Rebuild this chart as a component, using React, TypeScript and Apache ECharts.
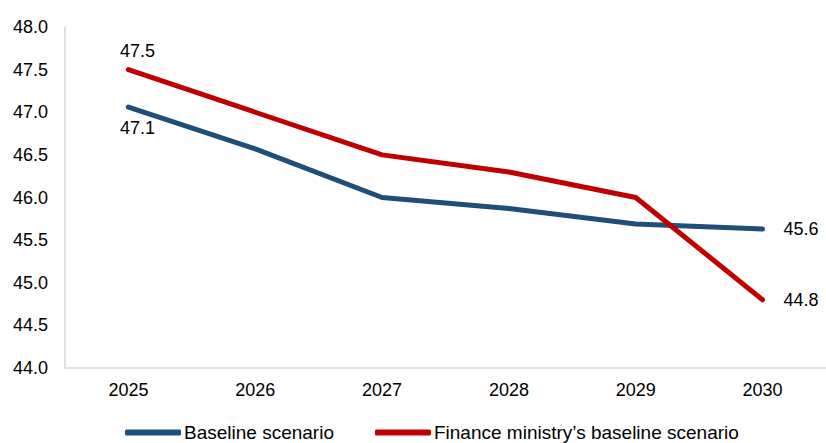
import React, { useEffect, useRef } from "react";
import * as echarts from "echarts";

const years = ["2025", "2026", "2027", "2028", "2029", "2030"];
const baseline = [47.06, 46.57, 46.0, 45.87, 45.69, 45.63];
const financeMinistry = [47.5, 47.0, 46.5, 46.3, 46.0, 44.8];

const FONT = "Liberation Sans, Arial, sans-serif";
const FS = 18;

export default function App() {
  const ref = useRef<HTMLDivElement>(null);

  useEffect(() => {
    if (!ref.current) return;
    const chart = echarts.init(ref.current, undefined, { renderer: "svg" });
    const lastIdx = years.length - 1;

    // Label only the first and last points of each line
    const labelled = (values: number[], firstPos: "top" | "bottom") =>
      values.map((v, i) => {
        if (i === 0) {
          return {
            value: v,
            label: {
              show: true,
              position: firstPos,
              distance: firstPos === "top" ? 10 : 12,
              offset: [9, 0],
            },
          };
        }
        if (i === lastIdx) {
          return {
            value: v,
            label: { show: true, position: "right", distance: 21 },
          };
        }
        return { value: v, label: { show: false } };
      });

    const seriesLabel = {
      color: "#000",
      fontSize: FS,
      fontFamily: FONT,
      formatter: (p: any) => Number(p.value).toFixed(1),
    };

    chart.setOption({
      animation: false,
      textStyle: { fontFamily: FONT },
      grid: { left: 65, right: -7, top: 27, bottom: 75 },
      xAxis: {
        type: "category",
        data: years,
        boundaryGap: true,
        axisLine: { lineStyle: { color: "#d9d9d9", width: 1.5 } },
        axisTick: { show: false },
        axisLabel: { color: "#000", fontSize: FS, margin: 13, fontFamily: FONT },
      },
      yAxis: {
        type: "value",
        min: 44,
        max: 48,
        interval: 0.5,
        axisLine: { show: true, lineStyle: { color: "#d9d9d9", width: 1.5 } },
        axisTick: { show: false },
        splitLine: { show: false },
        axisLabel: {
          color: "#000",
          fontSize: FS,
          margin: 17,
          fontFamily: FONT,
          formatter: (v: number) => v.toFixed(1),
        },
      },
      legend: {
        bottom: 1,
        left: 125,
        padding: 0,
        itemWidth: 56,
        itemHeight: 6,
        itemGap: 41,
        icon: "roundRect",
        textStyle: { color: "#000", fontSize: 19, fontFamily: FONT, padding: [0, 0, 0, -2] },
        data: ["Baseline scenario", "Finance ministry\u2019s baseline scenario"],
      },
      series: [
        {
          name: "Baseline scenario",
          type: "line",
          data: labelled(baseline, "bottom"),
          symbol: "circle",
          symbolSize: 0,
          showSymbol: true,
          lineStyle: { color: "#1F4E79", width: 5, cap: "round", join: "round" },
          itemStyle: { color: "#1F4E79" },
          label: seriesLabel,
        },
        {
          name: "Finance ministry\u2019s baseline scenario",
          type: "line",
          data: labelled(financeMinistry, "top"),
          symbol: "circle",
          symbolSize: 0,
          showSymbol: true,
          lineStyle: { color: "#C00000", width: 5, cap: "round", join: "round" },
          itemStyle: { color: "#C00000" },
          label: seriesLabel,
        },
      ],
    });

    return () => chart.dispose();
  }, []);

  return (
    <div
      ref={ref}
      style={{ position: "absolute", left: 0, top: 0, width: 826, height: 443 }}
    />
  );
}
